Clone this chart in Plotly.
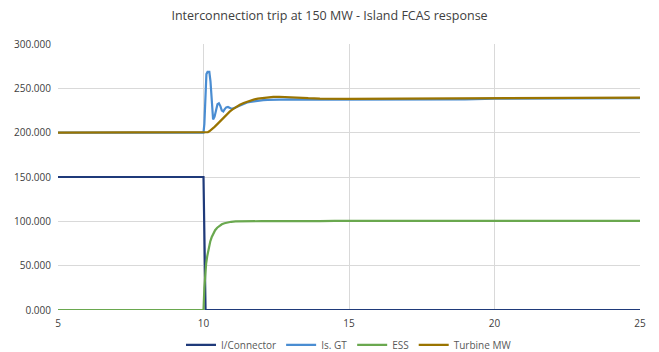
import plotly.graph_objects as go

# Time axis (s) and power (MW) traces
conn_t = [5, 10.0, 10.07, 25]
conn_mw = [150, 150, 0, 0]

gt_t = [5, 10.0, 10.03, 10.07, 10.1, 10.14, 10.2, 10.24, 10.28, 10.33, 10.38, 10.43, 10.48, 10.53,
        10.58, 10.63, 10.68, 10.73, 10.78, 10.84, 10.9, 10.96, 11.02, 11.1, 11.2, 11.3, 11.4, 11.5,
        11.6, 11.75, 11.9, 12.05, 12.2, 12.4, 12.6, 13.0, 14.0, 16.0, 19.0, 20.0, 21.0, 23.0, 25]
gt_mw = [200, 200, 210, 258, 266, 268.5, 268.5, 258, 232, 215, 218, 226, 232, 233,
         230, 225, 224, 226.5, 228.5, 229, 228, 227, 227.3, 228.5, 230.3, 231.8, 233, 234,
         234.8, 235.7, 236.3, 236.7, 237, 237.2, 237.4, 237.5, 237.3, 237.2, 237.5, 238.3, 238.6, 238.8, 239]

ess_t = [5, 10.0, 10.03, 10.06, 10.09, 10.13, 10.18, 10.23, 10.28, 10.34, 10.4, 10.47, 10.55, 10.63,
         10.72, 10.82, 10.95, 11.1, 11.3, 11.6, 12.0, 14.0, 14.5, 20.0, 25]
ess_mw = [0, 0, 25, 42, 52, 61, 70, 77, 82, 86.5, 90, 92.8, 95, 96.7,
          97.9, 98.8, 99.5, 99.9, 100.1, 100.2, 100.2, 100.2, 100.6, 100.6, 100.6]

turb_t = [5, 10.1, 10.15, 10.2, 10.25, 10.3, 10.38, 10.45, 10.53, 10.6, 10.7, 10.8, 10.9, 11.0,
          11.12, 11.25, 11.38, 11.5, 11.62, 11.75, 11.87, 12.0, 12.2, 12.4, 12.6, 12.8, 13.0,
          13.2, 13.4, 13.6, 13.8, 14.0, 15.0, 17.0, 19.0, 20.0, 22.0, 25]
turb_mw = [200, 200, 200.6, 201.6, 202.8, 204.2, 206.5, 208.8, 211.6, 214.2, 217.6, 220.8, 223.7, 226.2,
           228.9, 231.4, 233.4, 235.0, 236.3, 237.5, 238.3, 239.0, 239.8, 240.3, 240.5, 240.4, 240.1,
           239.7, 239.3, 238.9, 238.6, 238.4, 238.2, 238.3, 238.5, 239, 239.2, 239.5]

series = [
    ("I/Connector", conn_t, conn_mw, "#1f3a7a"),
    ("Is. GT", gt_t, gt_mw, "#4a8dd2"),
    ("ESS", ess_t, ess_mw, "#6aa84f"),
    ("Turbine MW", turb_t, turb_mw, "#9a7400"),
]

fig = go.Figure()
for name, t, mw, color in series:
    fig.add_trace(go.Scatter(
        x=t, y=mw, name=name, mode="lines", cliponaxis=False,
        line=dict(color=color, width=2.2),
    ))

fig.update_layout(
    width=659, height=352,
    margin=dict(l=58, r=19, t=44, b=42, autoexpand=False),
    paper_bgcolor="white", plot_bgcolor="white",
    font=dict(family="Open Sans, Liberation Sans, sans-serif", color="#595959", size=10),
    title=dict(
        text="Interconnection trip at 150 MW - Island FCAS response",
        x=0.5, xanchor="center", y=0.955, yanchor="middle",
        font=dict(size=12.5, color="#404040"),
    ),
    legend=dict(
        orientation="h", x=0.5, xanchor="center", xref="paper",
        yref="container", y=0.02, yanchor="middle",
        font=dict(size=10, color="#595959"),
        itemwidth=30, tracegroupgap=0,
    ),
    showlegend=True,
)

fig.update_xaxes(
    range=[5, 25], tickvals=[5, 10, 15, 20, 25],
    showgrid=True, gridcolor="#d9d9d9", gridwidth=1,
    zeroline=False, showline=False, ticks="", ticklabelstandoff=6,
    tickfont=dict(size=10, color="#404040"),
)
fig.update_yaxes(
    range=[0, 300], tickvals=[0, 50, 100, 150, 200, 250, 300],
    tickformat=".3f",
    showgrid=True, gridcolor="#d9d9d9", gridwidth=1,
    zeroline=False, showline=False, ticks="", ticklabelstandoff=6,
    tickfont=dict(size=10, color="#404040"),
)

fig.write_html("out.html")
